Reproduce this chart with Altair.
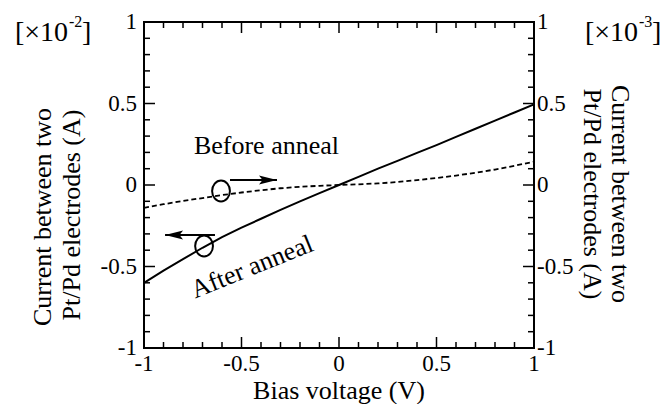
import altair as alt
import pandas as pd

# ---- data ----
bias = [-1.0, -0.9, -0.8, -0.7, -0.6, -0.5, -0.4, -0.3, -0.2, -0.1, 0.0,
        0.1, 0.2, 0.3, 0.4, 0.5, 0.6, 0.7, 0.8, 0.9, 1.0]
after_anneal = [-0.60, -0.525, -0.455, -0.385, -0.32, -0.262, -0.207, -0.153, -0.10, -0.05, 0.0,
                0.05, 0.10, 0.148, 0.197, 0.245, 0.295, 0.345, 0.395, 0.445, 0.495]   # x1e-2 A, left axis
before_anneal = [-0.14, -0.118, -0.098, -0.08, -0.062, -0.046, -0.032, -0.02, -0.011, -0.005, 0.0,
                 0.004, 0.01, 0.018, 0.03, 0.043, 0.058, 0.075, 0.095, 0.118, 0.143]  # x1e-3 A, right axis

label_values = [-1.0, -0.5, 0.0, 0.5, 1.0]
label_texts = ["-1", "-0.5", "0", "0.5", "1"]
major_ticks = [-0.5, 0.0, 0.5]
minor_ticks = [-0.9, -0.8, -0.7, -0.6, -0.4, -0.3, -0.2, -0.1,
               0.1, 0.2, 0.3, 0.4, 0.6, 0.7, 0.8, 0.9]

# annotation anchors (data coordinates)
circle_v = [-0.605, -0.692]
circle_i = [-0.037, -0.374]
arrow_start = [-0.559, -0.636]
arrow_end = [-0.318, -0.892]
arrow_i = [0.031, -0.307]
before_label = ("Before anneal", -0.372, 0.239)
after_label = ("After anneal", -0.446, -0.503)
y_title = ["Current between two", "Pt/Pd electrodes (A)"]
x_title = "Bias voltage (V)"

W, H = 390, 326
FONT = "Liberation Serif"
MAJ, MIN = 11, 6
LBL, TTL = 23, 26

curves = pd.DataFrame({"V": bias, "after": after_anneal, "before": before_anneal})
xs = alt.Scale(domain=[-1, 1], nice=False, zero=False)
ys = alt.Scale(domain=[-1, 1], nice=False, zero=False)


def X(f):
    return alt.X(f, scale=xs, axis=None)


def Y(f):
    return alt.Y(f, scale=ys, axis=None)


solid = alt.Chart(curves).mark_line(color="black", strokeWidth=2).encode(
    x=X("V:Q"), y=Y("after:Q"))
dashed = alt.Chart(curves).mark_line(color="black", strokeWidth=1.8, strokeDash=[5, 3]).encode(
    x=X("V:Q"), y=Y("before:Q"))


def xticks(vals, length, top):
    df = pd.DataFrame({"t": vals})
    if top:
        yy, yy2 = alt.value(0), alt.value(length)
    else:
        yy, yy2 = alt.value(H), alt.value(H - length)
    return alt.Chart(df).mark_rule(color="black", strokeWidth=1.5).encode(x=X("t:Q"), y=yy, y2=yy2)


def yticks(vals, length, right):
    df = pd.DataFrame({"t": vals})
    if right:
        xx, xx2 = alt.value(W), alt.value(W - length)
    else:
        xx, xx2 = alt.value(0), alt.value(length)
    return alt.Chart(df).mark_rule(color="black", strokeWidth=1.5).encode(y=Y("t:Q"), x=xx, x2=xx2)


tick_layers = []
for side in (False, True):
    tick_layers += [xticks(major_ticks, MAJ, side), xticks(minor_ticks, MIN, side),
                    yticks(major_ticks, MAJ, side), yticks(minor_ticks, MIN, side)]

lab_df = pd.DataFrame({"t": label_values, "s": label_texts})
x_labels = alt.Chart(lab_df).mark_text(
    font=FONT, fontSize=LBL, color="black", align="center", baseline="alphabetic").encode(
    x=X("t:Q"), y=alt.value(H + 23), text="s:N")
left_labels = alt.Chart(lab_df).mark_text(
    font=FONT, fontSize=LBL, color="black", align="right", baseline="middle").encode(
    y=Y("t:Q"), x=alt.value(-7), text="s:N")
right_labels = alt.Chart(lab_df).mark_text(
    font=FONT, fontSize=LBL, color="black", align="left", baseline="middle").encode(
    y=Y("t:Q"), x=alt.value(W + 3), text="s:N")


def label(txt, x, y, angle=0, size=TTL, align="center", baseline="middle"):
    kw = dict(font=FONT, fontSize=size, color="black", align=align, baseline=baseline)
    if angle:
        kw["angle"] = angle
    return alt.Chart(pd.DataFrame({"s": [txt]})).mark_text(**kw).encode(
        x=alt.value(x), y=alt.value(y), text="s:N")


titles = [
    label(x_title, W / 2, H + 51, baseline="alphabetic"),
    label(y_title[0], -101, 195, angle=270),
    label(y_title[1], -72, 193, angle=270),
    label(y_title[0], 476, 172, angle=90),
    label(y_title[1], 448, 172, angle=90),
]

ellipse = "M0,-1 A0.85,1 0 1,1 0,1 A0.85,1 0 1,1 0,-1 Z"
circles = alt.Chart(pd.DataFrame({"V": circle_v, "I": circle_i})).mark_point(
    shape=ellipse, size=440, filled=False, color="black", strokeWidth=2, opacity=1).encode(
    x=X("V:Q"), y=Y("I:Q"))

arrows_df = pd.DataFrame({"a": arrow_start, "b": arrow_end, "I": arrow_i})
shafts = alt.Chart(arrows_df).mark_rule(color="black", strokeWidth=2).encode(
    x=X("a:Q"), x2="b:Q", y=Y("I:Q"))

head_r = "M1,0 L-1,-0.5 L-0.6,0 L-1,0.5 Z"
head_l = "M-1,0 L1,-0.5 L0.6,0 L1,0.5 Z"
head1 = alt.Chart(arrows_df.iloc[[0]]).mark_point(
    shape=head_r, size=324, filled=True, color="black", opacity=1, xOffset=-9).encode(
    x=X("b:Q"), y=Y("I:Q"))
head2 = alt.Chart(arrows_df.iloc[[1]]).mark_point(
    shape=head_l, size=324, filled=True, color="black", opacity=1, xOffset=9).encode(
    x=X("b:Q"), y=Y("I:Q"))

before_txt = alt.Chart(pd.DataFrame({"txt": [before_label[0]], "V": [before_label[1]],
                                     "I": [before_label[2]]})).mark_text(
    font=FONT, fontSize=TTL, color="black", align="center", baseline="middle").encode(
    x=X("V:Q"), y=Y("I:Q"), text="txt:N")
after_txt = alt.Chart(pd.DataFrame({"txt": [after_label[0]], "V": [after_label[1]],
                                    "I": [after_label[2]]})).mark_text(
    font=FONT, fontSize=TTL, color="black", angle=338, align="center", baseline="middle").encode(
    x=X("V:Q"), y=Y("I:Q"), text="txt:N")


def sci(x0, exp):
    return [
        label("[\u00d710", x0, 11, size=28, align="right"),
        label(exp, x0 + 1, 0, size=16, align="left"),
        label("]", x0 + 14, 11, size=28, align="left"),
    ]


chart = alt.layer(
    solid, dashed, *tick_layers, x_labels, left_labels, right_labels, *titles,
    circles, shafts, head1, head2, before_txt, after_txt, *sci(-76, "-2"), *sci(494, "-3"),
).properties(
    width=W, height=H,
    autosize=alt.AutoSizeParams(type="none"),
    padding={"left": 136, "top": 14, "right": 128, "bottom": 56},
    background="white",
).configure_view(stroke="black", strokeWidth=2)

chart.save("out.html", embed_options={"renderer": "svg", "actions": False})
